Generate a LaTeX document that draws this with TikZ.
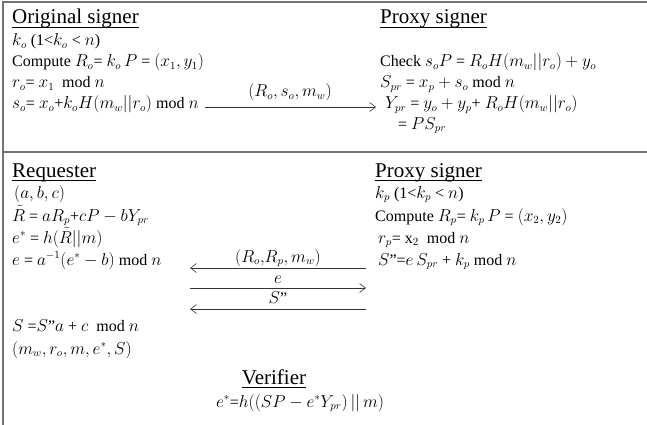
\documentclass[tikz,border=0pt]{standalone}
\usepackage{fontspec}
\setmainfont{Liberation Serif}
\usetikzlibrary{arrows.meta}
\newcommand{\dq}{\symbol{34}}
\tikzset{
  txt/.style={anchor=base west,inner sep=0pt,font=\fontsize{16}{19}\selectfont},
  ctxt/.style={anchor=base,inner sep=0pt,font=\fontsize{16}{19}\selectfont},
  head/.style={anchor=base west,inner sep=0pt,font=\fontsize{21}{25}\selectfont},
  uline/.style={draw=black,line width=0.9pt},
  rule/.style={draw=black!55,line width=1.6pt},
  msg/.style={draw=black!80,line width=0.8pt,-{Straight Barb[length=6pt,width=9pt,line width=0.6pt]}}
}
\begin{document}
\begin{tikzpicture}[x=1pt,y=-1pt]
\useasboundingbox (0,0) rectangle (647,425);
% frame lines
\coordinate (tl) at (3,2); \coordinate (tr) at (647,2);
\coordinate (bl) at (3,425);
\coordinate (ml) at (3,152); \coordinate (mr) at (647,152);
\draw[rule] (tr) -- (tl) -- (bl);
\draw[rule] (ml) -- (mr);
% ---- top left: original signer
\node[head] (os) at (12,24) {Original signer};
\draw[uline] ([yshift=-3.5pt]os.base west) -- ([yshift=-3.5pt]os.base east);
\node[txt] (o1) at (12,46) {$k_o$ (1<$k_o$ < $n$)};
\node[txt] (o2) at (12,67) {Compute $R_o$= $k_o\,P$ = $(x_1,y_1)$};
\node[txt] (o3) at (12,88) {$r_o$= $x_1$\ \ mod $n$};
\node[txt] (o4) at (12,109) {$s_o$= $x_o$+$k_oH(m_w||r_o)$ mod $n$};
% ---- top right: proxy signer
\node[head] (ps) at (380,24) {Proxy signer};
\draw[uline] ([yshift=-3.5pt]ps.base west) -- ([yshift=-3.5pt]ps.base east);
\node[txt] (p1) at (380,67) {Check $s_oP$ = $R_oH(m_w||r_o) + y_o$};
\node[txt] (p2) at (380,88) {$S_{pr}$ = $x_p + s_o$ mod $n$};
\node[txt] (p3) at (385,109) {$Y_{pr}$ = $y_o + y_p$+ $R_oH(m_w||r_o)$};
\node[txt] (p4) at (398,129) {= $PS_{pr}$};
% top message
\coordinate (m1s) at (205,107); \coordinate (m1e) at (376,107);
\draw[msg] (m1s) -- (m1e);
\node[ctxt] (m1l) at (290,97) {$(R_o, s_o, m_w)$};
% ---- bottom left: requester
\node[head] (rq) at (12,177) {Requester};
\draw[uline] ([yshift=-3.5pt]rq.base west) -- ([yshift=-3.5pt]rq.base east);
\node[txt] (r1) at (14,198) {$(a, b, c)$};
\node[txt] (r2) at (12,221) {$\tilde{R}$ = $aR_p$+$cP - bY_{pr}$};
\node[txt] (r3) at (12,243) {$e^*$ = $h(\tilde{R}||m)$};
\node[txt] (r4) at (12,265) {$e$ = $a^{-1}(e^* - b)$ mod $n$};
\node[txt] (r5) at (12,331) {$S$ =$S$\dq$a$ + $c$\ \ mod $n$};
\node[txt] (r6) at (12,354) {$(m_w, r_o, m, e^*, S)$};
% ---- bottom right: proxy signer
\node[head] (ps2) at (375,177) {Proxy signer};
\draw[uline] ([yshift=-3.5pt]ps2.base west) -- ([yshift=-3.5pt]ps2.base east);
\node[txt] (q1) at (375,198) {$k_p$ (1<$k_p$ < $n$)};
\node[txt] (q2) at (375,221) {Compute $R_p$= $k_p\,P$ = $(x_2, y_2)$};
\node[txt] (q3) at (378,243) {$r_p$= x$_2$\ \ mod $n$};
\node[txt] (q4) at (378,265) {$S$\dq=$e\,S_{pr}$ + $k_p$ mod $n$};
% bottom messages
\coordinate (a1r) at (366,268); \coordinate (a1l) at (190,268);
\coordinate (a2l) at (190,288); \coordinate (a2r) at (366,288);
\coordinate (a3r) at (366,309); \coordinate (a3l) at (190,309);
\draw[msg] (a1r) -- (a1l);
\draw[msg] (a2l) -- (a2r);
\draw[msg] (a3r) -- (a3l);
\node[ctxt] (l1) at (278,262) {$(R_o{,}R_p, m_w)$};
\node[ctxt] (l2) at (278,283) {$e$};
\node[ctxt] (l3) at (278,303) {$S$\dq};
% verifier
\node[head,anchor=base] (vf) at (274,384) {Verifier};
\draw[uline] ([yshift=-3.5pt]vf.base west) -- ([yshift=-3.5pt]vf.base east);
\node[ctxt] (vf1) at (300,407) {$e^*$=$h((SP - e^*Y_{pr})\,{||}\,m)$};
\end{tikzpicture}
\end{document}
